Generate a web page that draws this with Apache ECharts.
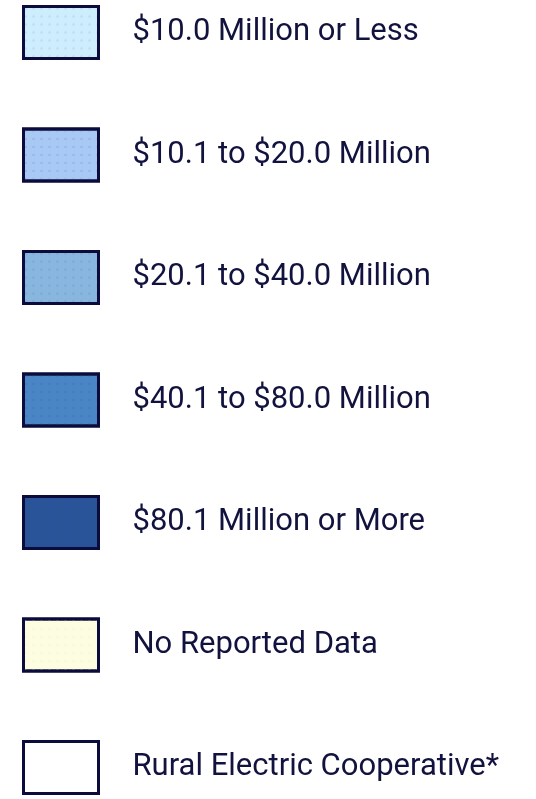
<!DOCTYPE html>
<html>
<head>
<meta charset="utf-8">
<script src="https://cdn.jsdelivr.net/npm/echarts@6/dist/echarts.min.js"></script>
<style>
  html, body { margin: 0; padding: 0; background: #fff; }
  #chart { width: 536px; height: 799px; }
</style>
</head>
<body>
<div id="chart"></div>
<script>
  // legend classes
  const categories = [
    '$10.0 Million or Less',
    '$10.1 to $20.0 Million',
    '$20.1 to $40.0 Million',
    '$40.1 to $80.0 Million',
    '$80.1 Million or More',
    'No Reported Data',
    'Rural Electric Cooperative*'
  ];
  const fillColors = ['#cdeefc', '#a7c9f4', '#88b6de', '#4a86c5', '#295497', '#fdfde2', '#ffffff'];
  // faint texture on the map fills
  const textureColors = ['rgba(175,160,235,0.45)', 'rgba(130,130,225,0.45)', 'rgba(95,150,205,0.6)',
    'rgba(55,110,190,0.6)', 'rgba(40,80,200,0.55)', 'rgba(250,250,200,0.9)', null];

  const chart = echarts.init(document.getElementById('chart'));

  const series = categories.map((name, i) => ({
    name: name,
    type: 'bar',
    data: [],
    itemStyle: {
      color: fillColors[i],
      decal: textureColors[i] ? {
        symbol: 'diamond',
        symbolSize: 0.6,
        color: textureColors[i],
        dashArrayX: [[4, 4]],
        dashArrayY: [4, 4],
        rotation: 0
      } : { symbol: 'none' }
    }
  }));

  chart.setOption({
    animation: false,
    aria: { enabled: true, decal: { show: true } },
    grid: { show: false, left: -10, top: -10, width: 1, height: 1 },
    xAxis: { show: false, type: 'category' },
    yAxis: { show: false, type: 'value' },
    legend: {
      orient: 'vertical',
      left: 22,
      top: 5,
      height: 794,
      padding: 0,
      icon: 'rect',
      itemWidth: 75,
      itemHeight: 52,
      itemGap: 67.5,
      selectedMode: false,
      itemStyle: { borderColor: '#0c0c3c', borderWidth: 3 },
      textStyle: {
        fontFamily: 'Roboto',
        fontSize: 31,
        color: '#12123f',
        padding: [0, 0, 0, 29]
      },
      data: categories
    },
    series: series
  });
</script>
</body>
</html>
